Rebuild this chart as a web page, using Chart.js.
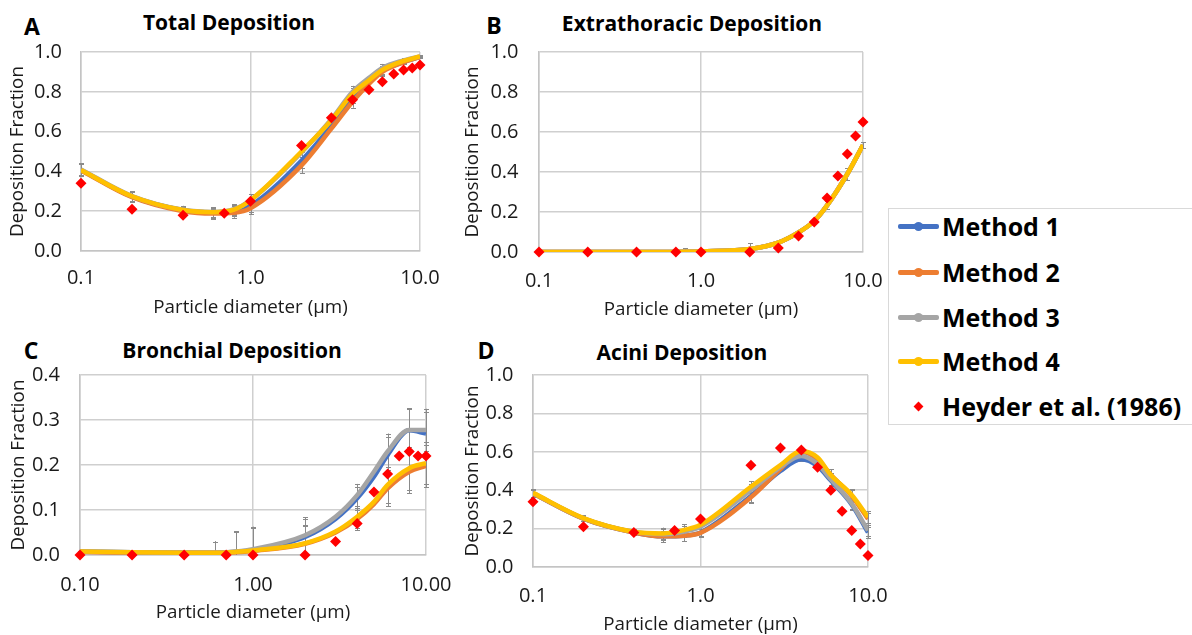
<!DOCTYPE html>
<html><head><meta charset="utf-8">
<script src="https://cdn.jsdelivr.net/npm/chart.js@4.4.1/dist/chart.umd.min.js"></script>
<style>
html,body{margin:0;padding:0;width:1192px;height:635px;overflow:hidden;background:#fff;font-family:'Open Sans',sans-serif;}
canvas{position:absolute;}
.ttl{position:absolute;font-weight:bold;font-size:21px;color:#000;transform:translate(-50%,-50%);white-space:nowrap;line-height:1;}
.lt{position:absolute;font-weight:bold;font-size:23px;color:#000;transform:translate(-50%,-50%);line-height:1;}
#legend{position:absolute;left:888px;top:208px;width:320px;height:217px;border:1px solid #d9d9d9;box-sizing:border-box;background:#fff;}
.row{position:absolute;left:0;height:0;}
.ln{position:absolute;left:9px;width:41px;height:5px;top:-2.5px;border-radius:2px;}
.dot{position:absolute;left:25px;width:9px;height:9px;top:-4.5px;border-radius:50%;}
.dia{position:absolute;left:26px;width:7px;height:7px;top:-3.5px;background:#ff0000;transform:rotate(45deg);}
.lbl{position:absolute;left:53px;top:0;transform:translateY(-50%);font-weight:bold;font-size:25px;line-height:1;white-space:nowrap;color:#000;}
</style>
</head><body>
<div class="lt" style="left:32px;top:26px">A</div>
<div class="ttl" style="left:229px;top:22px">Total Deposition</div>
<div class="lt" style="left:494px;top:25px">B</div>
<div class="ttl" style="left:692px;top:23px">Extrathoracic Deposition</div>
<div class="lt" style="left:31px;top:350px">C</div>
<div class="ttl" style="left:232px;top:350px">Bronchial Deposition</div>
<div class="lt" style="left:486px;top:350px">D</div>
<div class="ttl" style="left:682px;top:352px">Acini Deposition</div>

<canvas id="cA"></canvas>
<canvas id="cB"></canvas>
<canvas id="cC"></canvas>
<canvas id="cD"></canvas>

<div id="legend"></div>

<script>
// ---------------- DATA ----------------
const seriesNames = ['Method 1', 'Method 2', 'Method 3', 'Method 4'];
const heyderName = 'Heyder et al. (1986)';
const seriesColors = ['#4472C4', '#ED7D31', '#A5A5A5', '#FFC000'];

// model particle diameters (µm)
const modelX = [0.1, 0.2, 0.4, 0.6, 0.8, 1, 2, 3, 4, 5, 6, 8, 10];
// Heyder et al. (1986) particle diameters (µm)
const heyderX = [0.1, 0.2, 0.4, 0.7, 1, 2, 3, 4, 5, 6, 7, 8, 9, 10];

// Panel A - Total deposition
const totalM1 = [0.407, 0.273, 0.205, 0.193, 0.200, 0.228, 0.455, 0.630, 0.775, 0.850, 0.905, 0.950, 0.975];
const totalM2 = [0.405, 0.270, 0.200, 0.188, 0.192, 0.215, 0.430, 0.615, 0.750, 0.840, 0.900, 0.948, 0.975];
const totalM3 = [0.410, 0.276, 0.207, 0.196, 0.210, 0.255, 0.495, 0.662, 0.800, 0.870, 0.920, 0.958, 0.978];
const totalM4 = [0.407, 0.275, 0.206, 0.195, 0.208, 0.255, 0.500, 0.657, 0.790, 0.858, 0.910, 0.955, 0.978];
const totalErr = [0.030, 0.025, 0.020, 0.025, 0.025, 0.030, 0.040, null, 0.030, null, 0.020, 0.010, 0.005];
const totalHeyder = [0.34, 0.21, 0.18, 0.19, 0.25, 0.53, 0.67, 0.76, 0.81, 0.85, 0.89, 0.91, 0.92, 0.935];

// Panel B - Extrathoracic deposition
const extraM1 = [0, 0, 0, 0, 0.001, 0.003, 0.015, 0.047, 0.098, 0.155, 0.233, 0.390, 0.535];
const extraM2 = [0, 0, 0, 0, 0.001, 0.003, 0.015, 0.047, 0.098, 0.155, 0.233, 0.390, 0.535];
const extraM3 = [0, 0, 0, 0, 0.001, 0.003, 0.015, 0.047, 0.098, 0.155, 0.233, 0.390, 0.535];
const extraM4 = [0, 0, 0, 0, 0.001, 0.003, 0.015, 0.047, 0.098, 0.155, 0.233, 0.390, 0.535];
const extraErr = [0, 0, 0, 0.003, 0.018, 0.012, 0.030, null, 0.010, null, 0.020, 0.030, 0.015];
const extraHeyder = [0, 0, 0, 0, 0, 0, 0.02, 0.08, 0.15, 0.27, 0.38, 0.49, 0.58, 0.65];

// Panel C - Bronchial deposition
const bronchM1 = [0.008, 0.006, 0.005, 0.005, 0.007, 0.011, 0.040, 0.080, 0.126, 0.174, 0.222, 0.277, 0.270];
const bronchM2 = [0.007, 0.005, 0.005, 0.005, 0.006, 0.009, 0.025, 0.050, 0.080, 0.113, 0.148, 0.185, 0.198];
const bronchM3 = [0.008, 0.006, 0.005, 0.005, 0.008, 0.013, 0.044, 0.085, 0.133, 0.185, 0.230, 0.278, 0.278];
const bronchM4 = [0.008, 0.006, 0.005, 0.005, 0.007, 0.010, 0.026, 0.052, 0.085, 0.118, 0.156, 0.193, 0.204];
const bronchErr = [0.002, 0.002, 0.003, 0.025, 0.045, 0.050, 0.040, null, 0.025, null, 0.040, 0.048, 0.047];
const bronchHeyder = [0, 0, 0, 0, 0, 0, 0.03, 0.07, 0.14, 0.18, 0.22, 0.23, 0.22, 0.22];

// Panel D - Acini deposition
const aciniM1 = [0.383, 0.252, 0.180, 0.160, 0.163, 0.180, 0.370, 0.500, 0.561, 0.525, 0.450, 0.325, 0.180];
const aciniM2 = [0.383, 0.252, 0.180, 0.160, 0.163, 0.178, 0.363, 0.510, 0.600, 0.560, 0.480, 0.370, 0.250];
const aciniM3 = [0.385, 0.254, 0.183, 0.170, 0.185, 0.210, 0.400, 0.520, 0.578, 0.536, 0.457, 0.330, 0.190];
const aciniM4 = [0.386, 0.255, 0.184, 0.175, 0.193, 0.220, 0.418, 0.531, 0.604, 0.570, 0.479, 0.375, 0.260];
const aciniErr = [0.020, 0.015, 0.015, 0.030, 0.030, 0.020, 0.030, null, 0.010, null, 0.030, 0.030, 0.030];
const aciniHeyder = [0.34, 0.21, 0.18, 0.19, 0.25, 0.53, 0.62, 0.61, 0.52, 0.40, 0.29, 0.19, 0.12, 0.06];

// tick values and labels
const xTickValues = [0.1, 1, 10];
const xTickLabels = ['0.1', '1.0', '10.0'];
const xTickLabelsC = ['0.10', '1.00', '10.00'];
const yTickValues = [0, 0.2, 0.4, 0.6, 0.8, 1.0];
const yTickLabels = ['0.0', '0.2', '0.4', '0.6', '0.8', '1.0'];
const yTickValuesC = [0, 0.1, 0.2, 0.3, 0.4];
const yTickLabelsC = ['0.0', '0.1', '0.2', '0.3', '0.4'];

const xAxisTitle = 'Particle diameter (µm)';
const yAxisTitle = 'Deposition Fraction';

// ---------------- RENDERING ----------------
Chart.defaults.font.family = "'Open Sans', sans-serif";
Chart.defaults.font.size = 18.8;
Chart.defaults.color = '#1a1a1a';
const tickFont = {family: "'Open Sans', sans-serif", size: 20};

const errorBarPlugin = {
  id: 'errbars',
  beforeDatasetsDraw(chart) {
    const {ctx, scales: {x, y}} = chart;
    ctx.save();
    ctx.strokeStyle = '#8a8a8a';
    ctx.lineWidth = 1;
    chart.data.datasets.forEach(ds => {
      if (!ds.errors) return;
      ds.data.forEach((p, i) => {
        const e = ds.errors[i];
        if (e == null || e === 0) return;
        const px = Math.round(x.getPixelForValue(p.x)) + 0.5;
        const lo = p.y - e, hi = p.y + e;
        const yl = y.getPixelForValue(Math.max(lo, y.min));
        const yh = y.getPixelForValue(Math.min(hi, y.max));
        ctx.beginPath();
        ctx.moveTo(px, yl); ctx.lineTo(px, yh);
        if (lo >= y.min) { ctx.moveTo(px - 2.5, Math.round(yl) + 0.5); ctx.lineTo(px + 2.5, Math.round(yl) + 0.5); }
        if (hi <= y.max) { ctx.moveTo(px - 2.5, Math.round(yh) + 0.5); ctx.lineTo(px + 2.5, Math.round(yh) + 0.5); }
        ctx.stroke();
      });
    });
    ctx.restore();
  }
};

function pts(xs, ys) { return xs.map((x, i) => ({x: x, y: ys[i]})); }

function makePanel(id, cfg) {
  const cv = document.getElementById(id);
  const W = cfg.canvas.right - cfg.canvas.left;
  const H = cfg.canvas.bottom - cfg.canvas.top;
  cv.style.left = cfg.canvas.left + 'px';
  cv.style.top = cfg.canvas.top + 'px';
  cv.width = W; cv.height = H;
  cv.style.width = W + 'px'; cv.style.height = H + 'px';

  const datasets = [];
  cfg.methods.forEach((m, k) => {
    datasets.push({
      type: 'line',
      label: seriesNames[k],
      data: pts(modelX, m),
      errors: cfg.err,
      borderColor: seriesColors[k],
      backgroundColor: seriesColors[k],
      borderWidth: 4.5,
      pointRadius: 0,
      cubicInterpolationMode: 'monotone',
      fill: false,
      order: 4 - k + 1
    });
  });
  datasets.push({
    type: 'scatter',
    label: heyderName,
    data: pts(heyderX, cfg.heyder),
    pointStyle: 'rectRot',
    pointRadius: 5.5,
    backgroundColor: '#ff0000',
    borderColor: '#ff0000',
    borderWidth: 0,
    clip: false,
    order: 0
  });

  const a = cfg.area, c = cfg.canvas;
  return new Chart(cv, {
    data: {datasets},
    plugins: [errorBarPlugin],
    options: {
      responsive: false,
      animation: false,
      devicePixelRatio: 1,
      layout: {padding: {top: a.top - c.top, right: c.right - a.right, left: 0, bottom: 0}},
      plugins: {legend: {display: false}, tooltip: {enabled: false}},
      events: [],
      scales: {
        x: {
          type: 'logarithmic',
          position: 'bottom',
          min: 0.1, max: 10,
          afterBuildTicks: s => { s.ticks = xTickValues.map(v => ({value: v})); },
          afterFit: s => { s.height = c.bottom - a.bottom; },
          ticks: {
            autoSkip: false, maxRotation: 0, minRotation: 0,
            padding: cfg.xPad, color: '#1a1a1a', font: tickFont,
            callback: (v, i) => cfg.xLabels[i]
          },
          grid: {color: '#cfcfcf', lineWidth: 1.5, drawTicks: false},
          border: {display: true, color: '#c4c4c4', width: 1.5},
          title: {display: true, text: xAxisTitle, padding: {top: 0, bottom: 0}, color: '#1a1a1a'}
        },
        y: {
          type: 'linear',
          position: 'left',
          min: 0, max: cfg.yMax,
          afterBuildTicks: s => { s.ticks = cfg.yVals.map(v => ({value: v})); },
          afterFit: s => { s.width = a.left - c.left; },
          ticks: {
            padding: cfg.yPad, color: '#1a1a1a', font: tickFont,
            callback: (v, i) => cfg.yLabels[i]
          },
          grid: {color: '#cfcfcf', lineWidth: 1.5, drawTicks: false},
          border: {display: true, color: '#c4c4c4', width: 1.5},
          title: {display: true, text: yAxisTitle, padding: {top: 0, bottom: 0}, color: '#1a1a1a'}
        }
      }
    }
  });
}

makePanel('cA', {
  canvas: {left: 6, top: 4, right: 480, bottom: 319},
  area: {left: 81, top: 52, right: 420, bottom: 251},
  methods: [totalM1, totalM2, totalM3, totalM4], err: totalErr, heyder: totalHeyder,
  yMax: 1.0, yVals: yTickValues, yLabels: yTickLabels, xLabels: xTickLabels, xPad: 15.5, yPad: 19
});
makePanel('cB', {
  canvas: {left: 461, top: 4, right: 925, bottom: 321},
  area: {left: 539, top: 52, right: 863, bottom: 252},
  methods: [extraM1, extraM2, extraM3, extraM4], err: extraErr, heyder: extraHeyder,
  yMax: 1.0, yVals: yTickValues, yLabels: yTickLabels, xLabels: xTickLabels, xPad: 17.5, yPad: 20.5
});
makePanel('cC', {
  canvas: {left: 7, top: 325, right: 490, bottom: 624},
  area: {left: 80, top: 375, right: 426, bottom: 555},
  methods: [bronchM1, bronchM2, bronchM3, bronchM4], err: bronchErr, heyder: bronchHeyder,
  yMax: 0.4, yVals: yTickValuesC, yLabels: yTickLabelsC, xLabels: xTickLabelsC, xPad: 18, yPad: 20
});
makePanel('cD', {
  canvas: {left: 461, top: 325, right: 930, bottom: 636},
  area: {left: 533, top: 375, right: 868, bottom: 567},
  methods: [aciniM1, aciniM2, aciniM3, aciniM4], err: aciniErr, heyder: aciniHeyder,
  yMax: 1.0, yVals: yTickValues, yLabels: yTickLabels, xLabels: xTickLabels, xPad: 17.5, yPad: 19.5
});

// ---------------- LEGEND ----------------
const legendRowsY = [17, 63, 108, 152, 197];
const leg = document.getElementById('legend');
seriesNames.forEach((n, k) => {
  const r = document.createElement('div');
  r.className = 'row'; r.style.top = legendRowsY[k] + 'px';
  r.innerHTML = '<div class="ln" style="background:' + seriesColors[k] + '"></div>' +
    '<div class="dot" style="background:' + seriesColors[k] + '"></div>' +
    '<div class="lbl">' + n + '</div>';
  leg.appendChild(r);
});
const r5 = document.createElement('div');
r5.className = 'row'; r5.style.top = legendRowsY[4] + 'px';
r5.innerHTML = '<div class="dia"></div><div class="lbl">' + heyderName + '</div>';
leg.appendChild(r5);
</script>
</body></html>
